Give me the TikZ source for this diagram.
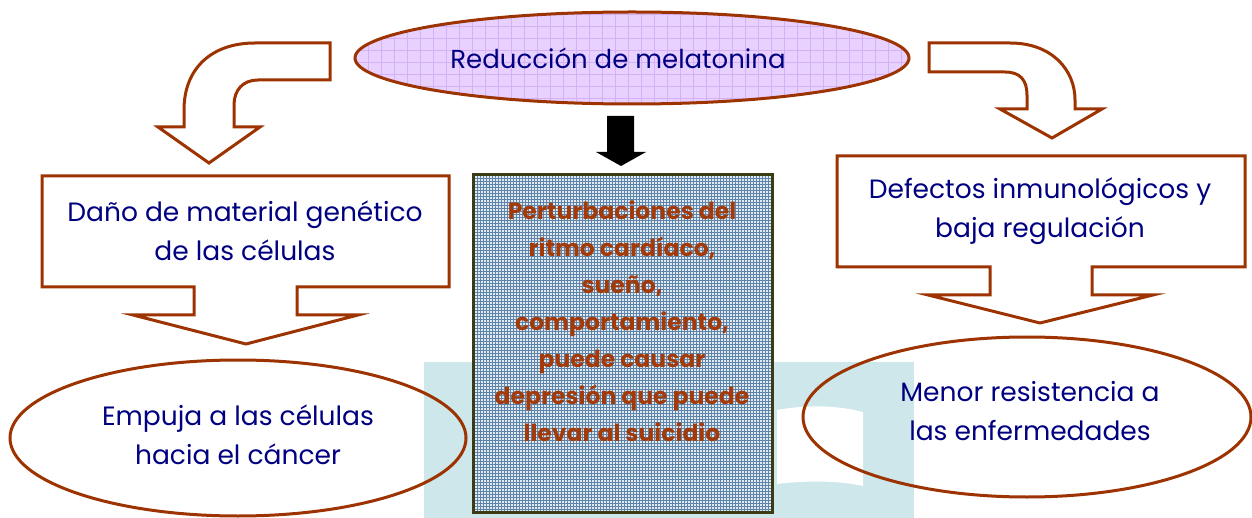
\documentclass[tikz,border=0pt]{standalone}
\usepackage{fontspec}
\setmainfont{Poppins}
\definecolor{brn}{HTML}{9C3300}
\definecolor{navy}{HTML}{000080}
\definecolor{txtbrn}{HTML}{A33A0A}
\definecolor{lav}{HTML}{E8D0FF}
\definecolor{lavline}{HTML}{D4B0F5}
\definecolor{wm}{HTML}{CDE7EA}
\definecolor{boxbase}{HTML}{E2EAF1}
\definecolor{boxline}{HTML}{5F84AA}
\definecolor{olive}{HTML}{3C3C14}
\tikzset{
  outl/.style={draw=brn, line width=3pt, line join=miter},
  txt/.style={text=navy, font=\fontsize{26.5}{39}\selectfont, align=center, inner sep=0pt},
  ctxt/.style={text=txtbrn, font=\bfseries\fontsize{23.5}{37}\selectfont, align=center, inner sep=0pt}
}
\begin{document}
\begin{tikzpicture}[x=1pt,y=-1pt]
\useasboundingbox (0,0) rectangle (1252,518);
% watermark
\fill[wm] (424,362) rectangle (914,518);
\fill[white] (777,410) .. controls (810,404) and (840,406) .. (863,412) -- (863,486) .. controls (840,481) and (810,480) .. (777,484) -- cycle;
% top ellipse
\begin{scope}
  \clip (632,58) ellipse [x radius=277, y radius=46];
  \fill[lav] (350,10) rectangle (915,110);
  \foreach \i in {0,...,44} {\draw[lavline, line width=0.6pt] (355+\i*13,10) -- (355+\i*13,110);}
  \foreach \j in {0,...,8} {\draw[lavline, line width=0.6pt] (350,14+\j*12) -- (915,14+\j*12);}
\end{scope}
\draw[outl] (632,58) ellipse [x radius=277, y radius=46];
\node[txt, font=\fontsize{26}{39}\selectfont] (top) at (618,58) {Reducción de melatonina};
% black arrow
\fill[black] (607,116) -- (634,116) -- (634,152) -- (646,152) -- (621,166) -- (596,152) -- (607,152) -- cycle;
% left curved arrow
\draw[outl] (184,127) -- (184,110) .. controls (184,68) and (212,43) .. (255,43) -- (330,43) -- (330,80) -- (258,80)
  .. controls (243,80) and (234,90) .. (234,105) -- (234,127) -- (260,127) -- (209,163) -- (158,127) -- cycle;
% right curved arrow
\draw[outl] (929,43) -- (1010,43) .. controls (1052,43) and (1075,70) .. (1075,100) -- (1075,109) -- (1102,109)
  -- (1052,138) -- (1000,109) -- (1027,109) -- (1027,95) .. controls (1027,80) and (1020,72) .. (1005,72) -- (929,72) -- cycle;
% left callout
\draw[outl] (42,176) -- (449,176) -- (449,287) -- (297,287) -- (297,315) -- (358,315) -- (246,344) -- (133,315)
  -- (194,315) -- (194,287) -- (42,287) -- cycle;
\node[txt] (dano) at (245,231) {Daño de material genético\\de las células};
% right callout
\draw[outl] (837,156) -- (1245,156) -- (1245,267) -- (1092,267) -- (1092,295) -- (1153,295) -- (1040,323) -- (928,295)
  -- (990,295) -- (990,267) -- (837,267) -- cycle;
\node[txt] (def) at (1040,211) {Defectos inmunológicos y\\baja regulación};
% center box
\begin{scope}
  \clip (473,175) rectangle (772,512);
  \fill[boxbase] (473,175) rectangle (772,512);
  \foreach \i in {0,...,100} {\draw[boxline, line width=1pt] (474+\i*3,175) -- (474+\i*3,512);}
  \foreach \j in {0,...,113} {\draw[boxline, line width=1pt] (473,176+\j*3) -- (772,176+\j*3);}
\end{scope}
\draw[draw=olive, line width=3pt] (473,175) rectangle (772,512);
\node[ctxt] (pert) at (622,321) {Perturbaciones del\\ritmo cardíaco,\\sueño,\\comportamiento,\\puede causar\\depresión que puede\\llevar al suicidio};
% bottom ellipses
\draw[outl] (238,438) ellipse [x radius=228, y radius=78];
\node[txt] (emp) at (238,435) {Empuja a las células\\hacia el cáncer};
\draw[outl] (1027,417) ellipse [x radius=224, y radius=80];
\node[txt] (men) at (1030,411) {Menor resistencia a\\las enfermedades};
\end{tikzpicture}
\end{document}
